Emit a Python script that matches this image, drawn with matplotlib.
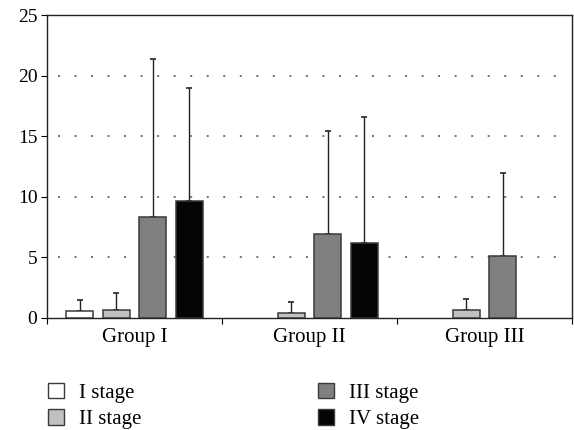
import numpy as np
import matplotlib
matplotlib.use('Agg')
import matplotlib.pyplot as plt
from matplotlib.patches import Patch

# Данные
groups = ['Group I', 'Group II', 'Group III']
stages = ['I stage', 'II stage', 'III stage', 'IV stage']
means = {
    'I stage':   [0.58, np.nan, np.nan],
    'II stage':  [0.70, 0.45, 0.70],
    'III stage': [8.30, 6.90, 5.10],
    'IV stage':  [9.65, 6.15, np.nan],
}
sds = {
    'I stage':   [0.90, np.nan, np.nan],
    'II stage':  [1.35, 0.90, 0.85],
    'III stage': [13.05, 8.55, 6.85],
    'IV stage':  [9.35, 10.40, np.nan],
}
colors = ['#ffffff', '#c0c0c0', '#808080', '#050505']

plt.rcParams['font.family'] = ['Liberation Serif', 'DejaVu Serif']

fig = plt.figure(figsize=(5.74, 4.30), dpi=100)
ax = fig.add_axes([0.082, 0.2605, 0.9145, 0.7045])

x = np.arange(len(groups))
step = 0.209
width = 0.154
for i, st in enumerate(stages):
    pos = x + (i - 1.5) * step
    m = np.array(means[st])
    s = np.array(sds[st])
    ok = ~np.isnan(m)
    ax.bar(pos[ok], m[ok], width, color=colors[i], edgecolor='#3a3a3a',
           linewidth=1.1, zorder=3)
    ax.errorbar(pos[ok], m[ok], yerr=[np.zeros(ok.sum()), s[ok]], fmt='none',
                ecolor='#222222', elinewidth=1.0, capsize=2.5, capthick=1.2,
                zorder=2)

ax.set_xlim(-0.5, 2.5)
ax.set_ylim(0, 25)
ax.set_yticks([0, 5, 10, 15, 20, 25])
ax.set_xticks([-0.5, 0.5, 1.5, 2.5])
ax.set_xticklabels([])
ax.set_xticks(x, minor=True)
ax.set_xticklabels(groups, minor=True)
ax.tick_params(axis='x', which='minor', length=0, labelsize=15, pad=7)
ax.tick_params(axis='x', which='major', length=4, direction='out')
ax.tick_params(axis='y', length=4, direction='out', labelsize=14, pad=3)

# пунктирные линии сетки
for y in [5, 10, 15, 20]:
    ax.axhline(y, color='#707070', linestyle=(0, (1, 7.5)), linewidth=1.4,
               xmin=0.02, xmax=0.98, zorder=1)

for sp in ax.spines.values():
    sp.set_color('#222222')
    sp.set_linewidth(1.0)

handles = [Patch(facecolor=c, edgecolor='#3a3a3a', linewidth=1.0) for c in colors]
fig.legend(handles, stages, loc='upper left', bbox_to_anchor=(0.084, 0.109),
           ncol=2, frameon=False, fontsize=15, handlelength=0.75,
           handleheight=0.75, handletextpad=0.75, columnspacing=8.45,
           labelspacing=0.3, borderpad=0, borderaxespad=0)

fig.savefig('out.png', dpi=100)
